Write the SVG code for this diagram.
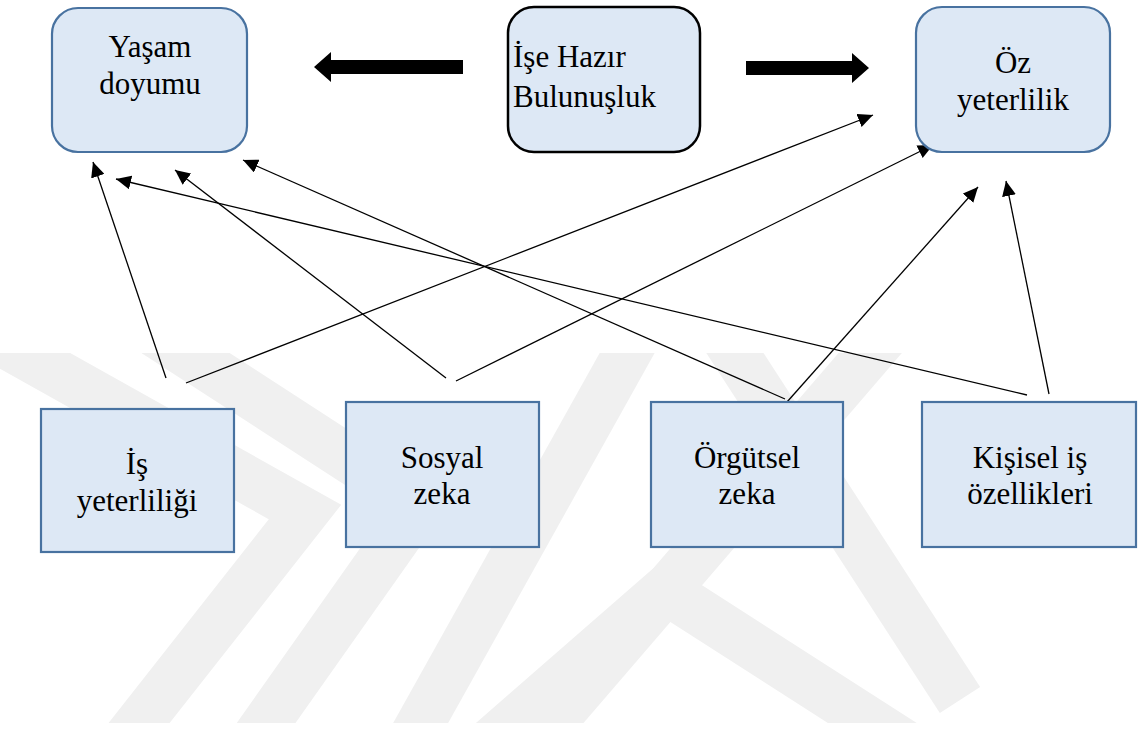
<svg xmlns="http://www.w3.org/2000/svg" width="1138" height="730" viewBox="0 0 1138 730">
  <style>
    .box { fill: #dde8f5; stroke: #4872a0; stroke-width: 2.2; }
    .hub { fill: #dde8f5; stroke: #000; stroke-width: 2.5; }
    .lbl { font-family: "Liberation Serif", "DejaVu Serif", serif; font-size: 31px; fill: #000; }
    .mid { text-anchor: middle; }
    .link { stroke: #000; stroke-width: 1.3; fill: none; marker-end: url(#tip); }
    .wm { fill: none; stroke: #f0f0f0; stroke-width: 48; stroke-linejoin: miter; }
  </style>
  <defs>
    <marker id="tip" markerUnits="userSpaceOnUse" markerWidth="16" markerHeight="14" refX="15" refY="7" orient="auto">
      <path d="M0,0 L15,7 L0,14 Z" fill="#000"/>
    </marker>
    <clipPath id="wmclip">
      <rect x="0" y="353" width="1138" height="370"/>
    </clipPath>
  </defs>

  <rect width="1138" height="730" fill="#fff"/>

  <!-- faint background emblem -->
  <g id="emblem" clip-path="url(#wmclip)">
    <polyline class="wm" points="-20,330 305,512 110,760"/>
    <polyline class="wm" points="150,330 420,505 240,760"/>
    <polyline class="wm" points="640,330 400,760"/>
    <polyline class="wm" points="890,330 520,760"/>
    <polyline class="wm" points="470,760 665,590 930,760"/>
    <polyline class="wm" points="720,330 960,700"/>
  </g>

  <!-- connectors -->
  <g id="connectors">
    <line class="link" x1="166" y1="378" x2="93" y2="162"/>
    <line class="link" x1="186" y1="383" x2="873" y2="115"/>
    <line class="link" x1="446" y1="378" x2="175" y2="170"/>
    <line class="link" x1="456" y1="381" x2="933" y2="145"/>
    <line class="link" x1="785" y1="399" x2="243" y2="160"/>
    <line class="link" x1="787" y1="402" x2="978" y2="187"/>
    <line class="link" x1="1027" y1="395" x2="116" y2="179"/>
    <line class="link" x1="1049" y1="394" x2="1006" y2="181"/>
    <!-- block arrows from the central node -->
    <path d="M463,60 L331,60 L331,52 L314,67 L331,82 L331,74 L463,74 Z" fill="#000"/>
    <path d="M746,61 L852,61 L852,53 L869,68 L852,83 L852,75 L746,75 Z" fill="#000"/>
  </g>

  <g id="node-yasam">
    <rect class="box" x="52" y="8" width="195" height="144" rx="26"/>
    <text class="lbl mid" x="150" y="57">Yaşam</text>
    <text class="lbl mid" x="150" y="94">doyumu</text>
  </g>

  <g id="node-hazir">
    <rect class="hub" x="508" y="7" width="192" height="145" rx="26"/>
    <text class="lbl" x="513" y="67">İşe Hazır</text>
    <text class="lbl" x="513" y="107">Bulunuşluk</text>
  </g>

  <g id="node-oz">
    <rect class="box" x="916" y="7" width="194" height="145" rx="26"/>
    <text class="lbl mid" x="1013" y="73">Öz</text>
    <text class="lbl mid" x="1013" y="110">yeterlilik</text>
  </g>

  <g id="node-is">
    <rect class="box" x="41" y="409" width="193" height="143"/>
    <text class="lbl mid" x="137" y="474">İş</text>
    <text class="lbl mid" x="137" y="511">yeterliliği</text>
  </g>

  <g id="node-sosyal">
    <rect class="box" x="346" y="402" width="193" height="145"/>
    <text class="lbl mid" x="442" y="468">Sosyal</text>
    <text class="lbl mid" x="442" y="504">zeka</text>
  </g>

  <g id="node-orgutsel">
    <rect class="box" x="651" y="402" width="192" height="145"/>
    <text class="lbl mid" x="747" y="468">Örgütsel</text>
    <text class="lbl mid" x="747" y="504">zeka</text>
  </g>

  <g id="node-kisisel">
    <rect class="box" x="922" y="402" width="214" height="145"/>
    <text class="lbl mid" x="1030" y="468">Kişisel iş</text>
    <text class="lbl mid" x="1030" y="504">özellikleri</text>
  </g>
</svg>
